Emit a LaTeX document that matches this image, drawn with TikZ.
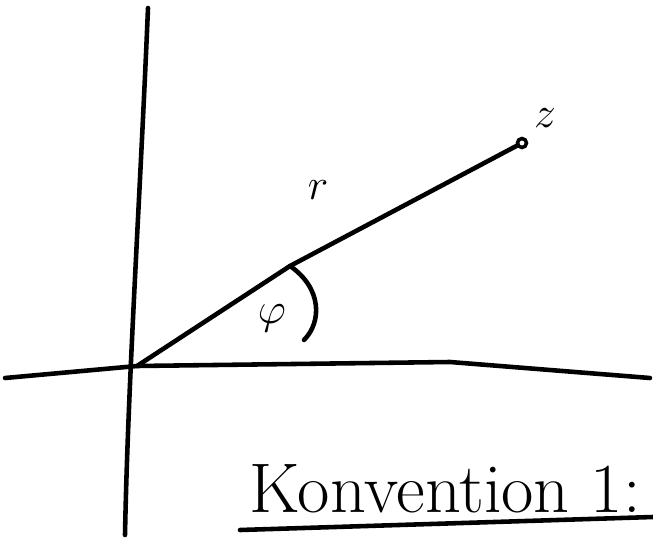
\documentclass[tikz,border=0pt]{standalone}
\usepackage{tikz}
\usetikzlibrary{positioning}

\begin{document}
\begin{tikzpicture}[
    x=0.02cm, y=-0.02cm,
    pen/.style={line width=2.6pt, line cap=round, line join=round},
    point/.style={draw, circle, line width=2pt, inner sep=0pt, minimum size=0.18cm},
    label/.style={font=\fontsize{34}{38}\selectfont}
]
    \useasboundingbox (0,0) rectangle (653,541);

    \coordinate (ytop) at (148,8);
    \coordinate (ybot) at (125,535);
    \coordinate (xleft) at (5,378);
    \coordinate (xright) at (650,378);
    \coordinate (origin) at (137,366);
    \node[point] (z) at (522,143) {};

    \node[label] (zlabel) at (545,118) {$z$};
    \node[label] (rlabel) at (318,190) {$r$};
    \node[font=\fontsize{48}{52}\selectfont] (philabel) at (272,318) {$\varphi$};

    \coordinate (arcstart) at (290,266);
    \coordinate (arcend) at (304,340);

    \node[font=\fontsize{40}{44}\selectfont, anchor=base west] (title) at (243,512) {Konvention 1:};
    \coordinate (ulstart) at (240,530);
    \coordinate (ulend) at (653,517);

    % axes
    \draw[pen] (ytop) .. controls (140,200) and (128,380) .. (ybot);
    \draw[pen] (xleft) -- (origin) -- (450,362) -- (xright);

    % radius and angle
    \draw[pen] (origin) -- (arcstart) -- (z);
    \draw[pen] (arcstart) .. controls (322,288) and (322,322) .. (arcend);

    \draw[pen] (ulstart) -- (ulend);
\end{tikzpicture}
\end{document}
